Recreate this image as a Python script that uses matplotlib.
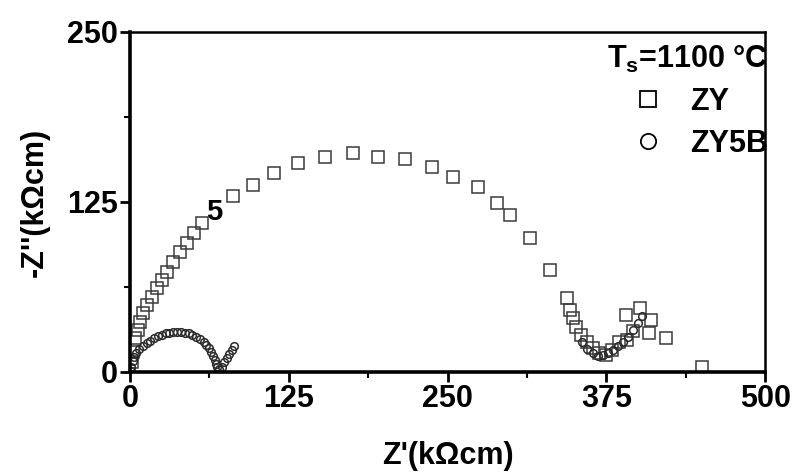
import matplotlib
matplotlib.use("Agg")
import matplotlib.pyplot as plt
from matplotlib.lines import Line2D
from matplotlib.ticker import MultipleLocator

plt.rcParams['font.family'] = ['Liberation Sans', 'DejaVu Sans']
plt.rcParams['font.weight'] = 'bold'
plt.rcParams['mathtext.fontset'] = 'custom'
plt.rcParams['mathtext.rm'] = 'Liberation Sans:bold'
plt.rcParams['mathtext.bf'] = 'Liberation Sans:bold'
plt.rcParams['mathtext.default'] = 'bf'

# Impedance spectra (Nyquist), sintering temperature 1100 °C
zy_re = [1.6, 2.4, 3.9, 6.3, 7.9, 10.2, 13.4, 17.3, 21.2, 25.2, 29.1, 33.8,
         39.3, 44.8, 50.3, 56.6, 81.0, 96.7, 113.2, 132.1, 153.3, 175.3,
         195.0, 216.2, 237.4, 254.0, 273.6, 288.5, 298.7, 314.5, 330.2,
         343.6, 345.9, 348.3, 351.4, 355.3, 359.3, 364.0, 369.5, 375.0,
         379.7, 385.2, 391.5, 390.7, 401.0, 410.0, 408.8, 396.0, 422.0, 450.5]
zy_im = [7.4, 14.7, 25.0, 30.9, 36.8, 43.4, 49.3, 55.1, 61.8, 67.6, 73.5, 80.9,
         88.2, 94.9, 102.2, 109.6, 129.4, 137.5, 146.3, 153.7, 158.1, 161.0,
         158.1, 156.6, 150.7, 143.4, 136.0, 124.3, 115.4, 98.5, 75.0,
         54.4, 45.6, 39.7, 33.1, 27.2, 22.1, 17.6, 14.0, 12.5,
         16.2, 22.0, 23.5, 41.9, 47.0, 38.2, 28.7, 30.0, 25.0, 3.7]

zy5b_re = [0.5, 1.0, 2.0, 3.0, 5.0, 7.0, 10.0, 13.0, 16.0, 19.0, 22.0, 25.0,
           28.0, 31.0, 34.0, 37.0, 40.0, 43.0, 46.0, 49.0, 52.0, 55.0, 58.0,
           60.0, 62.0, 64.0, 65.5, 66.5, 67.5, 68.5, 70.0, 72.0, 74.0, 76.0,
           78.0, 80.0, 82.0,
           356.0, 360.0, 364.0, 368.0, 372.0, 376.0, 380.0, 384.0, 388.0,
           392.0, 396.0, 400.0, 403.0]
zy5b_im = [1.0, 4.0, 8.0, 11.0, 14.0, 17.0, 19.0, 21.0, 23.0, 25.0, 26.5, 27.5,
           28.5, 29.0, 29.5, 29.5, 29.3, 29.0, 28.3, 27.3, 26.0, 24.3, 22.2,
           20.0, 17.5, 14.8, 12.0, 9.0, 6.0, 3.5, 2.5, 4.0, 7.0, 10.0,
           13.0, 16.0, 19.0,
           22.0, 17.0, 14.0, 12.0, 12.5, 14.0, 16.0, 19.0, 22.0,
           26.0, 31.0, 36.0, 41.0]

x_ticks = [0, 125, 250, 375, 500]
y_ticks = [0, 125, 250]

fig = plt.figure(figsize=(7.98, 4.76), dpi=100)
ax = fig.add_axes([0.163, 0.2185, 0.796, 0.7145])

ax.plot(zy_re, zy_im, linestyle='none', marker='s', markersize=9,
        markerfacecolor='none', markeredgecolor='#3a3a3a', markeredgewidth=1.1)
ax.plot(zy5b_re, zy5b_im, linestyle='none', marker='o', markersize=5.5,
        markerfacecolor='none', markeredgecolor='#2a2a2a', markeredgewidth=1.1)

ax.text(66, 117.6, '5', fontsize=21, fontweight='bold', ha='center', va='center')

ax.set_xlim(0, 500)
ax.set_ylim(0, 250)
ax.set_xticks(x_ticks)
ax.set_yticks(y_ticks)
ax.xaxis.set_minor_locator(MultipleLocator(62.5))
ax.yaxis.set_minor_locator(MultipleLocator(62.5))
ax.tick_params(which='major', direction='out', length=7, width=2,
               labelsize=22, pad=2)
ax.tick_params(which='minor', direction='out', length=4, width=1.5)
for lab in ax.get_xticklabels() + ax.get_yticklabels():
    lab.set_fontweight('bold')

for side in ['left', 'bottom']:
    ax.spines[side].set_linewidth(2.6)
for side in ['top', 'right']:
    ax.spines[side].set_linewidth(1.8)

ax.set_xlabel("Z'(k\u03A9cm)", fontsize=22, fontweight='bold', labelpad=19)
ax.set_ylabel("-Z''(k\u03A9cm)", fontsize=22, fontweight='bold', labelpad=12)

handles = [
    Line2D([], [], linestyle='none', marker='s', markersize=11,
           markerfacecolor='none', markeredgecolor='black', markeredgewidth=1.3),
    Line2D([], [], linestyle='none', marker='o', markersize=11,
           markerfacecolor='none', markeredgecolor='black', markeredgewidth=1.3),
]
leg = ax.legend(handles, ['ZY', 'ZY5B'], loc='upper right', frameon=False,
                bbox_to_anchor=(1.01, 0.975),
                title='$T_s$=1100 \u00B0C', alignment='right',
                prop={'size': 22, 'weight': 'bold'},
                title_fontproperties={'size': 22, 'weight': 'bold'},
                handlelength=1.0, handletextpad=0.9, labelspacing=0.4,
                borderaxespad=0.0, borderpad=0.1)

fig.savefig('out.png', dpi=100)
